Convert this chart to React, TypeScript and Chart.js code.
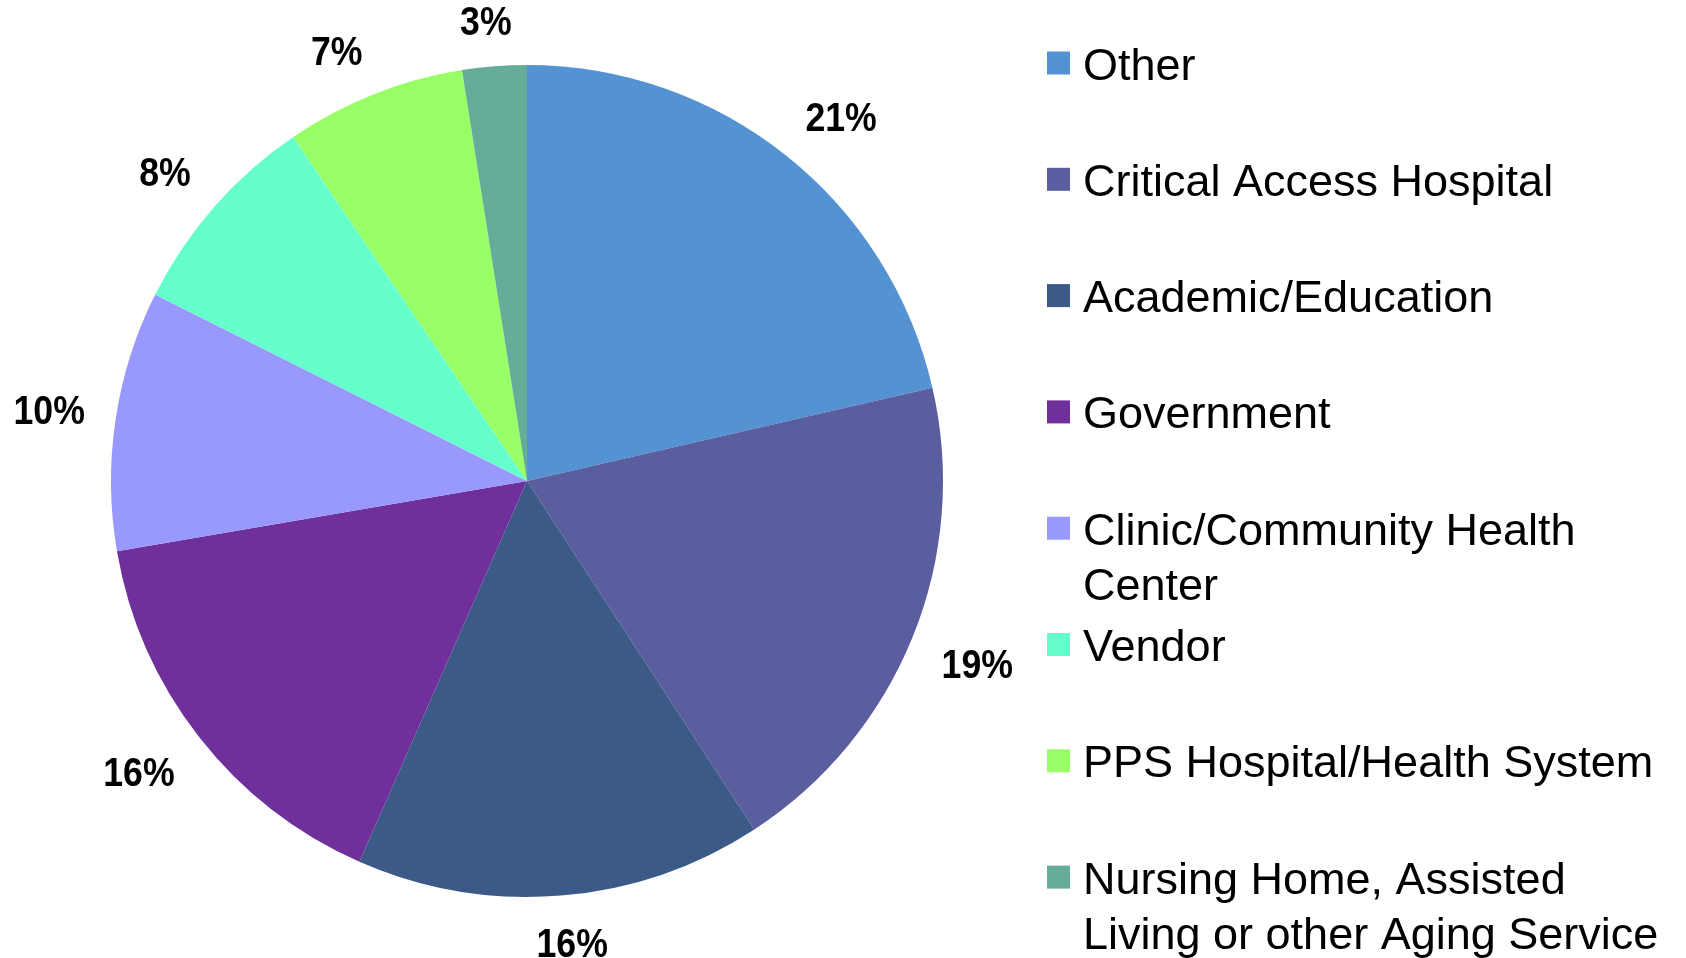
import React, { useEffect, useRef } from 'react';
import { Chart, registerables } from 'chart.js';

Chart.register(...registerables);

const categories = [
  'Other',
  'Critical Access Hospital',
  'Academic/Education',
  'Government',
  'Clinic/Community Health Center',
  'Vendor',
  'PPS Hospital/Health System',
  'Nursing Home, Assisted Living or other Aging Service',
];

const values = [21.4, 19.4, 15.8, 15.7, 10.1, 8.1, 7.0, 2.5];

const colors = [
  '#5592D1',
  '#5A5E9E',
  '#3C5A87',
  '#70309C',
  '#9999FD',
  '#66FFCC',
  '#99FF66',
  '#66AD99',
];

const W = 1686;
const H = 958;

function wrapText(ctx: CanvasRenderingContext2D, text: string, maxWidth: number): string[] {
  const words = text.split(' ');
  const lines: string[] = [];
  let cur = '';
  for (const w of words) {
    const test = cur ? cur + ' ' + w : w;
    if (cur && ctx.measureText(test).width > maxWidth) {
      lines.push(cur);
      cur = w;
    } else {
      cur = test;
    }
  }
  if (cur) lines.push(cur);
  return lines;
}

const clamp = (v: number) => Math.max(-1, Math.min(1, v));

export default function App() {
  const ref = useRef<HTMLCanvasElement>(null);

  useEffect(() => {
    const canvas = ref.current;
    if (!canvas) return;

    const outLabels = {
      id: 'outLabels',
      afterDatasetsDraw(chart: any) {
        const ctx = chart.ctx as CanvasRenderingContext2D;
        const meta = chart.getDatasetMeta(0);
        const total = values.reduce((a, b) => a + b, 0);
        ctx.save();
        ctx.font = 'bold 41px "Liberation Sans", Arial, sans-serif';
        ctx.fillStyle = '#000000';
        meta.data.forEach((arc: any, i: number) => {
          const p = arc.getProps(['x', 'y', 'startAngle', 'endAngle', 'outerRadius'], true);
          const mid = (p.startAngle + p.endAngle) / 2;
          const text = Math.round((values[i] / total) * 100) + '%';
          const sx = 0.87;
          const w = ctx.measureText(text).width * sx;
          const capH = 30;
          const c = Math.cos(mid);
          const s = Math.sin(mid);
          const d = p.outerRadius + 31;
          const cx = p.x + c * d + (w / 2) * clamp(c * 3);
          const cy = p.y + s * d + (capH / 2) * clamp(s * 3);
          ctx.save();
          ctx.translate(cx, cy + capH / 2);
          ctx.scale(sx, 1);
          ctx.textAlign = 'center';
          ctx.textBaseline = 'alphabetic';
          ctx.fillText(text, 0, 0);
          ctx.restore();
        });
        ctx.restore();
      },
    };

    const sideLegend = {
      id: 'sideLegend',
      afterDraw(chart: any) {
        const ctx = chart.ctx as CanvasRenderingContext2D;
        const boxX = 1047;
        const box = 23;
        const textX = 1083;
        const firstY = 63;
        const step = 116.3;
        const lineH = 55.5;
        ctx.save();
        ctx.font = '45px "Liberation Sans", Arial, sans-serif';
        ctx.textAlign = 'left';
        ctx.textBaseline = 'alphabetic';
        categories.forEach((label, i) => {
          const cy = firstY + i * step;
          ctx.fillStyle = colors[i];
          ctx.fillRect(boxX, cy - box / 2, box, box);
          ctx.fillStyle = '#000000';
          const lines = wrapText(ctx, label, W - textX - 4);
          lines.forEach((ln, j) => {
            ctx.fillText(ln, textX, cy + 16.5 + j * lineH);
          });
        });
        ctx.restore();
      },
    };

    const chart = new Chart(canvas, {
      type: 'pie',
      data: {
        labels: categories,
        datasets: [
          {
            data: values,
            backgroundColor: colors,
            borderWidth: 0,
          },
        ],
      },
      options: {
        responsive: false,
        animation: false,
        layout: {
          padding: { left: 111, top: 65, right: 743, bottom: 61 },
        },
        plugins: {
          legend: { display: false },
          tooltip: { enabled: false },
        },
      },
      plugins: [outLabels, sideLegend],
    });

    return () => {
      chart.destroy();
    };
  }, []);

  return (
    <div style={{ position: 'fixed', left: 0, top: 0, width: W, height: H, background: '#ffffff' }}>
      <canvas ref={ref} width={W} height={H} style={{ width: W, height: H, display: 'block' }} />
    </div>
  );
}
